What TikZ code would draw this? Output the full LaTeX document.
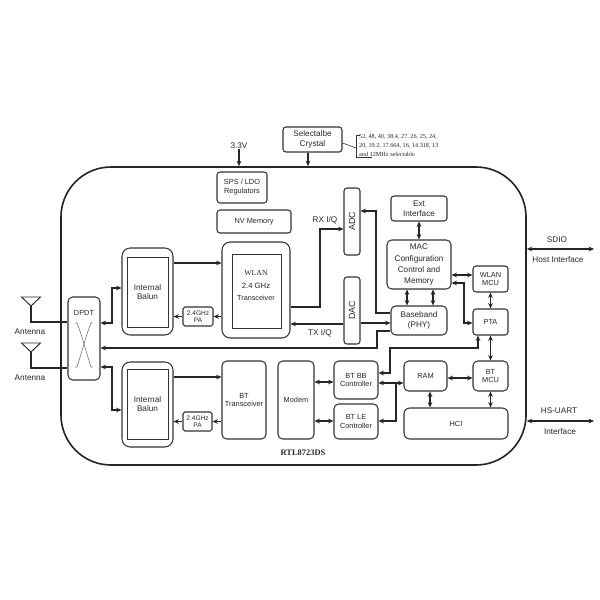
\documentclass[tikz,border=0pt]{standalone}
\usepackage{fontspec}
\setmainfont{Liberation Sans}
\newfontfamily\seriffont{Liberation Serif}
\usetikzlibrary{arrows.meta}

\begin{document}
\begin{tikzpicture}[x=0.3mm, y=-0.3mm, >={Stealth[length=4.6pt,width=4pt]},
  every node/.style={font=\fontsize{7}{8.4}\selectfont, text=black!85},
  blk/.style={rectangle, draw=black!80, line width=0.9pt, rounded corners=2.5pt, align=center, inner sep=1pt},
  outerblk/.style={blk, rounded corners=7pt},
  innerblk/.style={rectangle, draw=black!80, line width=0.7pt, align=center, inner sep=1pt},
  chip/.style={rectangle, draw=black!85, line width=1.4pt, rounded corners=15mm},
  small/.style={font=\fontsize{6.3}{7.6}\selectfont},
  tiny/.style={font=\fontsize{5.6}{6.2}\selectfont},
  link/.style={line width=1pt, draw=black!85},
  lbl/.style={inner sep=0pt}]
\useasboundingbox (0,0) rectangle (600,600);

\node [chip, minimum width=139.5mm, minimum height=89.4mm] (chip) at (293.5,316) {};
\node [font=\seriffont\bfseries\fontsize{7.2}{8}\selectfont] (chipname) at (303,453) {RTL8723DS};

\node [lbl] (v33) at (239,146) {3.3V};
\node [blk, minimum width=17.7mm, minimum height=7.5mm] (crystal) at (312.5,139.5) {Selectalbe\\Crystal};
\node [lbl, anchor=west, align=left, font=\seriffont\fontsize{5.3}{7.6}\selectfont] (note) at (359,145.5) {52, 48, 40, 38.4, 27, 26, 25, 24,\\20, 19.2, 17.664, 16, 14.318, 13\\and 12MHz selectable};

\node [blk, small, minimum width=15mm, minimum height=9.3mm] (sps) at (242,187.5) {SPS / LDO\\Regulators};
\node [blk, small, minimum width=22.2mm, minimum height=6.9mm] (nvmem) at (254,221.5) {NV Memory};

\node [blk, minimum width=4.8mm, minimum height=20.1mm] (adc) at (352,221.5) {};
\node [rotate=90, font=\fontsize{7.6}{8}\selectfont] (adclbl) at (adc) {ADC};
\node [blk, minimum width=4.8mm, minimum height=20.1mm] (dac) at (352,310.5) {};
\node [rotate=90, font=\fontsize{7.6}{8}\selectfont] (daclbl) at (dac) {DAC};

\node [blk, minimum width=16.8mm, minimum height=7.5mm] (ext) at (419,208.5) {Ext\\Interface};
\node [blk, font=\fontsize{7}{9.4}\selectfont, rounded corners=4pt, minimum width=19.2mm, minimum height=14.7mm] (mac) at (419,264.5) {MAC\\Configuration\\Control and\\Memory};
\node [blk, font=\fontsize{7}{9}\selectfont, rounded corners=4pt, minimum width=16.8mm, minimum height=8.7mm] (bb) at (419,320.5) {Baseband\\(PHY)};
\node [blk, small, minimum width=10.5mm, minimum height=7.8mm] (wmcu) at (490.5,279) {WLAN\\MCU};
\node [blk, small, minimum width=10.5mm, minimum height=7.8mm] (pta) at (490.5,322) {PTA};

\node [outerblk, minimum width=20.4mm, minimum height=28.8mm] (wlan) at (256,290) {};
\node [innerblk, minimum width=14.7mm, minimum height=22.2mm] (wlanin) at (256.5,291) {};
\node [align=center, font=\fontsize{6.6}{10.6}\selectfont] (wlantxt) at (256,285.5) {{\seriffont WLAN}\\2.4 GHz\\{\fontsize{6.2}{7}\selectfont Transceiver}};

\node [outerblk, minimum width=15.3mm, minimum height=26.1mm] (balunA) at (147.5,291.5) {};
\node [innerblk, minimum width=12.3mm, minimum height=21mm] (balunAin) at (147.5,292) {Internal\\Balun};
\node [blk, tiny, rounded corners=1.5pt, minimum width=9mm, minimum height=5.7mm] (paA) at (198,316.5) {2.4GHz\\PA};

\node [blk, rounded corners=4pt, minimum width=9.6mm, minimum height=24.9mm] (dpdt) at (84,338.5) {};
\node [small] (dpdtlbl) at (84,313) {DPDT};

\node [outerblk, minimum width=15.3mm, minimum height=25.5mm] (balunB) at (147.5,404.5) {};
\node [innerblk, minimum width=12.3mm, minimum height=21mm] (balunBin) at (147.5,404) {Internal\\Balun};
\node [blk, tiny, rounded corners=1.5pt, minimum width=8.7mm, minimum height=5.7mm] (paB) at (197.5,421.5) {2.4GHz\\PA};

\node [blk, small, rounded corners=4pt, minimum width=13.2mm, minimum height=23.4mm] (bttrx) at (244,400) {BT\\Transceiver};
\node [blk, small, rounded corners=4pt, minimum width=10.8mm, minimum height=23.4mm] (modem) at (296,400) {Modem};
\node [blk, small, rounded corners=4pt, minimum width=13.2mm, minimum height=11.4mm] (btbb) at (356,380) {BT BB\\Controller};
\node [blk, small, rounded corners=4pt, minimum width=13.2mm, minimum height=10.5mm] (btle) at (356,421.5) {BT LE\\Controller};
\node [blk, small, rounded corners=4pt, minimum width=12.9mm, minimum height=9mm] (ram) at (425.5,376) {RAM};
\node [blk, small, rounded corners=4pt, minimum width=10.5mm, minimum height=9mm] (btmcu) at (490.5,376) {BT\\MCU};
\node [blk, small, rounded corners=5pt, minimum width=31.2mm, minimum height=9.3mm] (hci) at (456,423.5) {HCI};

\node [lbl] (sdio) at (557,240) {SDIO};
\node [lbl] (host) at (558,260) {Host Interface};
\node [lbl] (uart) at (559,411) {HS-UART};
\node [lbl] (uartif) at (560,432) {Interface};
\coordinate (sdioend) at (594,249);
\coordinate (uartend) at (594,421);

\node [lbl] (antAlbl) at (30,332) {Antenna};
\node [lbl] (antBlbl) at (30,378) {Antenna};
\coordinate (antA) at (31,306);
\coordinate (antB) at (31,352);

\draw [link, line width=0.8pt] (antA) -- ++(-9.5,-9) -- ++(19,0) -- cycle;
\draw [link, line width=0.8pt] (antB) -- ++(-9.5,-9) -- ++(19,0) -- cycle;
\draw [link] (antA) |- (dpdt.west |- 0,322);
\draw [link] (antB) |- (dpdt.west |- 0,368);
\draw [black!55, line width=0.5pt] (75,323) -- (77,323) .. controls (83,338) and (86,352) .. (91,367) -- (93,367);
\draw [black!55, line width=0.5pt] (93,323) -- (91,323) .. controls (85,338) and (82,352) .. (77,367) -- (75,367);

\draw [link, ->] (v33.south) -- (v33.south |- chip.north);
\draw [link, ->] ([xshift=-1.35mm]crystal.south) -- ([xshift=-1.35mm]crystal.south |- chip.north);
\draw [black!80, line width=0.5pt] (crystal.east |- 0,143) -- (356,148);
\draw [black!80, line width=0.5pt] (360,135) -- (356,135) -- (356,157) -- (372,157);

\draw [link, <->] (dpdt.east |- 0,323) -- (112,323) |- (balunA.west |- 0,288);
\draw [link, <->] (dpdt.east |- 0,367) -- (112,367) |- (balunB.west |- 0,410);
\draw [link, ->] (balunA.east |- 0,263) -- (wlan.west |- 0,263);
\draw [link, ->] (wlan.west |- paA) -- (paA);
\draw [link, ->] (paA) -- (balunA.east |- paA);
\draw [link, ->] (balunB.east |- 0,377) -- (bttrx.west |- 0,377);
\draw [link, ->] (bttrx.west |- paB) -- (paB);
\draw [link, ->] (paB) -- (balunB.east |- paB);

\draw [link, ->] (wlan.east |- 0,307) -- (320,307) |- (adc.west |- 0,229);
\node [lbl] (rxlbl) at (325,220) {RX I/Q};
\draw [link, ->] (dac.west |- 0,324) -- (wlan.east |- 0,324);
\draw [link, ->] (dac.east |- 0,323) -- (bb.west |- 0,323);
\node [lbl] (txlbl) at (320,333) {TX I/Q};
\draw [link, ->] (bb.west |- 0,313) -- (376,313) |- (adc.east |- 0,211);
\draw [link, ->] (bb.west |- 0,331) -- (377,331) |- (dpdt.east |- 0,348);

\draw [link, <->] (ext) -- (mac);
\draw [link, <->] (mac.south -| 407,0) -- (bb.north -| 407,0);
\draw [link, <->] (mac.south -| 433,0) -- (bb.north -| 433,0);
\draw [link, <->] (mac.east |- 0,275) -- (wmcu.west |- 0,275);
\draw [link, <->] (mac.east |- 0,283) -- (464,283) |- (pta.west |- 0,323);
\draw [link, <->] (wmcu) -- (pta);
\draw [link, <->] (pta) -- (btmcu);
\draw [link, <->] (pta.south -| 478,0) |- (390,348) |- (btbb.east |- 0,373);

\draw [link, <->] (modem.east |- 0,382) -- (btbb.west |- 0,382);
\draw [link, <->] (modem.east |- 0,421) -- (btle.west |- 0,421);
\draw [link, <->] (btbb.east |- 0,383) -- (ram.west |- 0,383);
\draw [link, ->] (396,383) |- (btle.east |- 0,421);
\draw [link, <->] (ram.east |- 0,378) -- (btmcu.west |- 0,378);
\draw [link, <->] (ram.south -| 430,0) -- (hci.north -| 430,0);
\draw [link, <->] (btmcu) -- (hci.north -| btmcu);

\draw [link, <->] (chip.east |- sdioend) -- (sdioend);
\draw [link, <->] (chip.east |- uartend) -- (uartend);
\end{tikzpicture}
\end{document}
